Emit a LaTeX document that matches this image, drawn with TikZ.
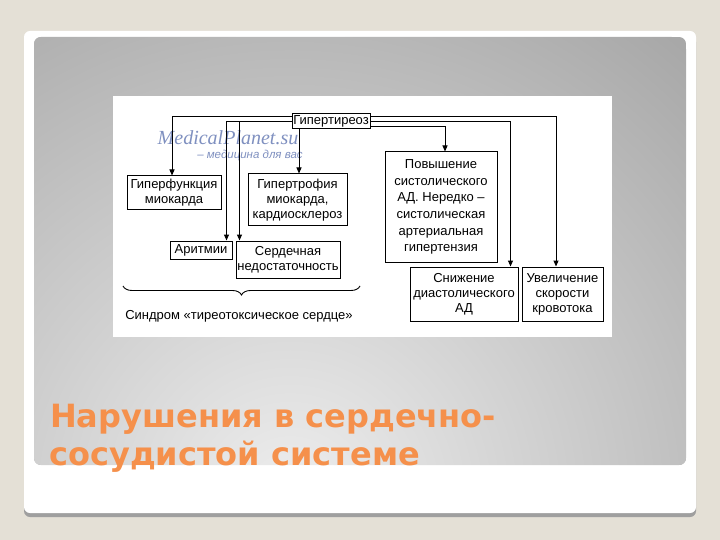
\documentclass[tikz,border=0pt]{standalone}
\usepackage{fontspec}
\setmainfont{Liberation Sans}
\newfontfamily\titlefont{DejaVu Sans}
\newfontfamily\wmserif{Liberation Serif}
\usetikzlibrary{arrows.meta,decorations.pathreplacing}
\definecolor{bgbeige}{HTML}{E4E0D6}
\definecolor{pin}{HTML}{EEEEEE}
\definecolor{pout}{HTML}{A8A8A8}
\definecolor{titleorange}{HTML}{F5904B}
\definecolor{wmblue}{HTML}{7F90C0}
\begin{document}
\begin{tikzpicture}[x=1pt,y=-1pt,
  box/.style={draw=black, line width=1pt, fill=white, align=center, inner sep=0pt,
    font=\fontsize{13}{15}\selectfont},
  arr/.style={line width=1pt, -{Triangle[length=6pt,width=5pt]}},
  ttl/.style={anchor=base west, inner sep=0pt, text=titleorange,
    font=\titlefont\bfseries\fontsize{32}{32}\selectfont}]
\fill[bgbeige] (0,0) rectangle (720,540);
\useasboundingbox (0,0) rectangle (720,540);
% slide card
\fill[gray!75, rounded corners=6] (24,36) rectangle (696,517);
\fill[white, rounded corners=6] (24,31) rectangle (696,513);
\begin{scope}
\clip[rounded corners=7] (34,37) rectangle (686,465);
\fill[pout] (34,37) rectangle (686,465);
\shade[inner color=pin, outer color=pout] (290,500) circle (600);
\end{scope}
% diagram panel
\fill[white] (113,96) rectangle (612,337);
% watermark
\node[font=\wmserif\itshape\fontsize{20}{20}\selectfont, text=wmblue, inner sep=0pt] (wm1) at (228,138) {MedicalPlanet.su};
\node[font=\itshape\fontsize{11.5}{11.5}\selectfont, text=wmblue, inner sep=0pt] (wm2) at (250,155) {– медицина для вас};
% boxes
\node[box, minimum width=78, minimum height=15] (gt) at (331,121.5) {Гипертиреоз};
\node[box, minimum width=94, minimum height=34] (gf) at (174,193) {Гиперфункция\\миокарда};
\node[box, minimum width=99, minimum height=52] (gtr) at (297.5,200) {Гипертрофия\\миокарда,\\кардиосклероз};
\node[box, minimum width=62, minimum height=18] (ar) at (201,250) {Аритмии};
\node[box, minimum width=104, minimum height=37] (sn) at (288,259.5) {Сердечная\\недостаточность};
\node[box, minimum width=112, minimum height=110, font=\fontsize{13}{16.7}\selectfont] (pv) at (441,207) {Повышение\\систолического\\АД. Нередко –\\систолическая\\артериальная\\гипертензия};
\node[box, minimum width=108, minimum height=54] (sz) at (464,294) {Снижение\\диастолического\\АД};
\node[box, minimum width=81, minimum height=54] (uv) at (562.5,294) {Увеличение\\скорости\\кровотока};
% connectors
\coordinate (gw1) at ([yshift=4.5]gt.west);
\coordinate (gw2) at ([yshift=-0.5]gt.west);
\coordinate (ge1) at ([yshift=4.5]gt.east);
\coordinate (ge2) at ([yshift=-0.5]gt.east);
\coordinate (ge3) at ([yshift=-5.5]gt.east);
\coordinate (snt) at ([xshift=4]sn.north west);
\draw[arr] (gw1) -| ([xshift=-2]gf.north);
\draw[arr] (gw2) -| ([xshift=-6]ar.north east);
\draw[arr] (snt |- gw2) -- (snt);
\draw[arr] ([xshift=1.5]gtr.north |- gt.south) -- ([xshift=1.5]gtr.north);
\draw[arr] (ge3) -| ([xshift=4]pv.north);
\draw[arr] (ge2) -| ([xshift=-8]sz.north east);
\draw[arr] (ge1) -| ([xshift=-6.5]uv.north);
% brace
\coordinate (b1) at (123,286);
\coordinate (b2) at (360,286);
\draw[line width=0.9pt, decorate, decoration={brace, mirror, amplitude=9pt}] (b1) -- (b2);
\node[font=\fontsize{13}{15}\selectfont, inner sep=0pt] (synd) at (239,316) {Синдром «тиреотоксическое сердце»};
% title
\node[ttl] (t1) at (50,427) {Нарушения в сердечно-};
\node[ttl] (t2) at (49,465) {сосудистой системе};
\end{tikzpicture}
\end{document}
